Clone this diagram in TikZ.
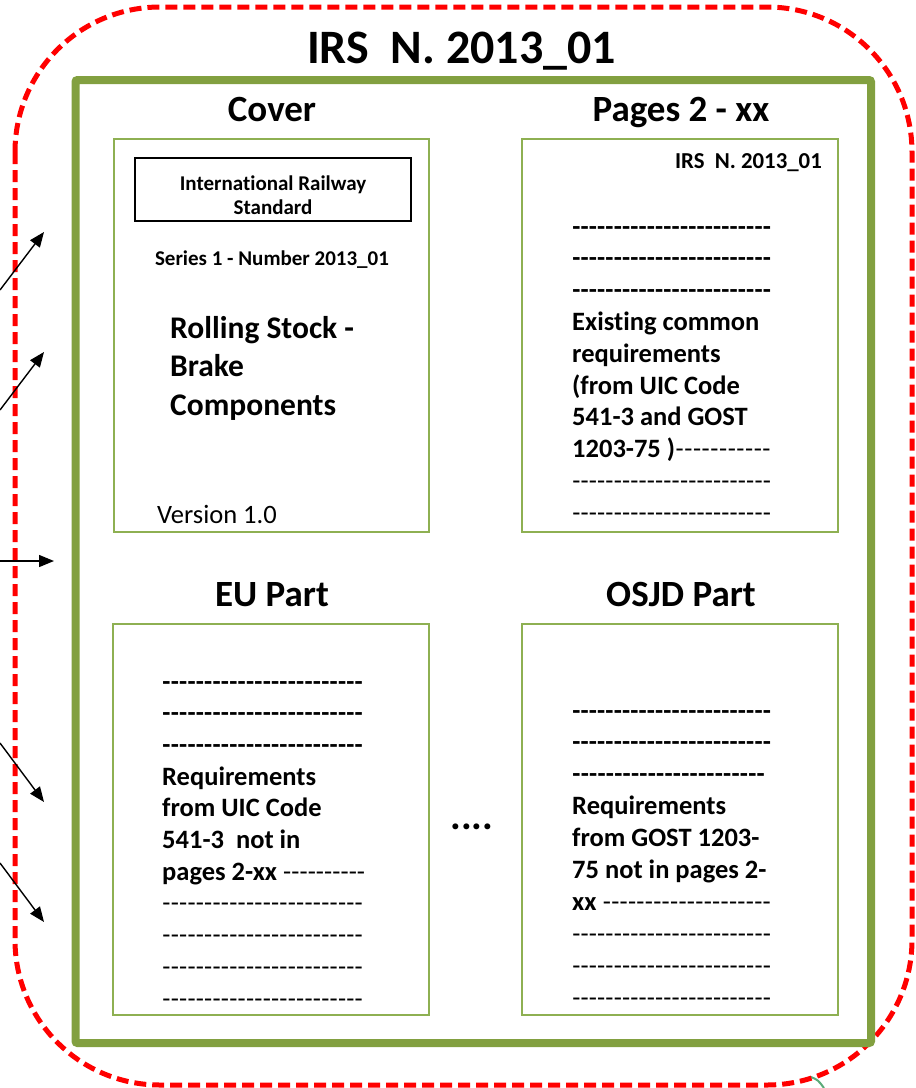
\documentclass[tikz,border=0pt]{standalone}
\usepackage{fontspec}
\setmainfont{Carlito}[Ligatures={TeXOff,NoCommon}]
\usetikzlibrary{arrows.meta}

\definecolor{irsred}{RGB}{255,0,0}
\definecolor{framegreen}{RGB}{130,160,64}
\definecolor{pagegreen}{RGB}{142,176,82}
\definecolor{markgreen}{RGB}{90,170,120}

% a line of given width: some text, then hyphens up to the end
\newcommand\dashline[2]{\hbox to #1{#2\xleaders\hbox{-}\hfill}}

\tikzset{
  page/.style={draw=pagegreen, line width=2pt},
  heading/.style={anchor=base, inner sep=0pt, font=\fontsize{37}{40}\selectfont\bfseries},
  textline/.style={anchor=base west, inner sep=0pt, font=\fontsize{26.5}{32}\selectfont},
  pointer/.style={-{Triangle[length=15pt,width=12pt]}, line width=1.4pt},
}

\begin{document}
\begin{tikzpicture}[x=1pt, y=-1pt]
\useasboundingbox (0,0) rectangle (916,1088);

% frames
\draw[markgreen, line width=2pt] (811,1077) .. controls (818,1080) .. (824,1088);
\draw[irsred, line width=5pt, dash pattern=on 12pt off 6pt, rounded corners=145pt]
  (15,7) rectangle (912,1085);
\draw[framegreen, line width=8pt, rounded corners=2pt] (75.5,80) rectangle (871,1043);
\node[anchor=base, inner sep=0pt, font=\fontsize{48}{50}\selectfont\bfseries] (title) at (461.5,63) {IRS~ N. 2013\_01};

% the four pages
\draw[page] (114,139) rectangle (429,532);
\draw[page] (522,139) rectangle (838,532);
\draw[page] (113,624) rectangle (429,1015);
\draw[page] (522,624) rectangle (838,1015);

\node[heading] (cover) at (272,121) {Cover};
\node[heading] (pages) at (681,121) {Pages 2 - xx};
\node[heading] (eupart) at (272,606) {EU Part};
\node[heading] (osjdpart) at (681,606) {OSJD Part};

% cover
\node[draw, line width=1.8pt, minimum width=276pt, minimum height=63pt] (irsbox) at (273,189.5) {};
\node[align=center, inner sep=0pt, font=\fontsize{21}{24}\selectfont\bfseries] (irsname) at (273,195)
  {International Railway\\Standard};
\node[anchor=base, inner sep=0pt, font=\fontsize{21}{24}\selectfont\bfseries] (series) at (272,265) {Series 1 - Number 2013\_01};
\node[anchor=base west, inner sep=0pt, font=\fontsize{31.5}{38.5}\selectfont\bfseries] (rolling) at (170,338) {Rolling Stock -};
\node[anchor=base west, inner sep=0pt, font=\fontsize{31.5}{38.5}\selectfont\bfseries] (brake) at (170,376.5) {Brake};
\node[anchor=base west, inner sep=0pt, font=\fontsize{31.5}{38.5}\selectfont\bfseries] (components) at (170,415) {Components};
\node[anchor=base west, inner sep=0pt, font=\fontsize{26.5}{30}\selectfont] (version) at (157,523) {Version 1.0};

% pages 2 - xx
\node[anchor=base east, inner sep=0pt, font=\fontsize{22.8}{26}\selectfont\bfseries] (irssmall) at (822,168) {IRS~ N. 2013\_01};
\foreach \txt [count=\i] in {{\textbf{\dashline{199pt}{}}}, {\textbf{\dashline{199pt}{}}}, {\textbf{\dashline{199pt}{}}},
    {\textbf{Existing common}}, {\textbf{requirements}}, {\textbf{(from UIC Code}},
    {\textbf{541-3 and GOST}}, {\dashline{199pt}{\textbf{1203-75 )}}}, {\dashline{199pt}{}}, {\dashline{199pt}{}}}
  \node[textline] (pages-\i) at (572,235+31.8*\i-31.8) {\txt};

% EU part
\foreach \txt [count=\i] in {{\textbf{\dashline{201pt}{}}}, {\textbf{\dashline{201pt}{}}}, {\textbf{\dashline{201pt}{}}},
    {\textbf{Requirements}}, {\textbf{from UIC Code}}, {\textbf{541-3~ not in}},
    {\dashline{203pt}{\textbf{pages 2-xx}\ }}, {\dashline{201pt}{}}, {\dashline{201pt}{}}, {\dashline{201pt}{}}, {\dashline{201pt}{}}}
  \node[textline] (eu-\i) at (162,690+31.7*\i-31.7) {\txt};

\node[anchor=base, inner sep=0pt, font=\fontsize{40}{42}\selectfont\bfseries] (more) at (472,829) {....};

% OSJD part
\foreach \txt [count=\i] in {{\textbf{\dashline{199pt}{}}}, {\textbf{\dashline{199pt}{}}}, {\textbf{\dashline{193pt}{}}},
    {\textbf{Requirements}}, {\textbf{from GOST 1203-}}, {\textbf{75 not in pages 2-}},
    {\dashline{199pt}{\textbf{xx}\ }}, {\dashline{199pt}{}}, {\dashline{199pt}{}}, {\dashline{199pt}{}}}
  \node[textline] (osjd-\i) at (572,719+31.9*\i-31.9) {\txt};

% pointers from outside
\coordinate (from-1) at (0,290);
\coordinate (to-1) at (44,232);
\coordinate (from-2) at (0,410);
\coordinate (to-2) at (44,352);
\coordinate (from-3) at (0,561);
\coordinate (to-3) at (54,561);
\coordinate (from-4) at (0,743);
\coordinate (to-4) at (44,802);
\coordinate (from-5) at (0,863);
\coordinate (to-5) at (44,922);
\foreach \i in {1,...,5}
  \draw[pointer] (from-\i) -- (to-\i);
\end{tikzpicture}
\end{document}
